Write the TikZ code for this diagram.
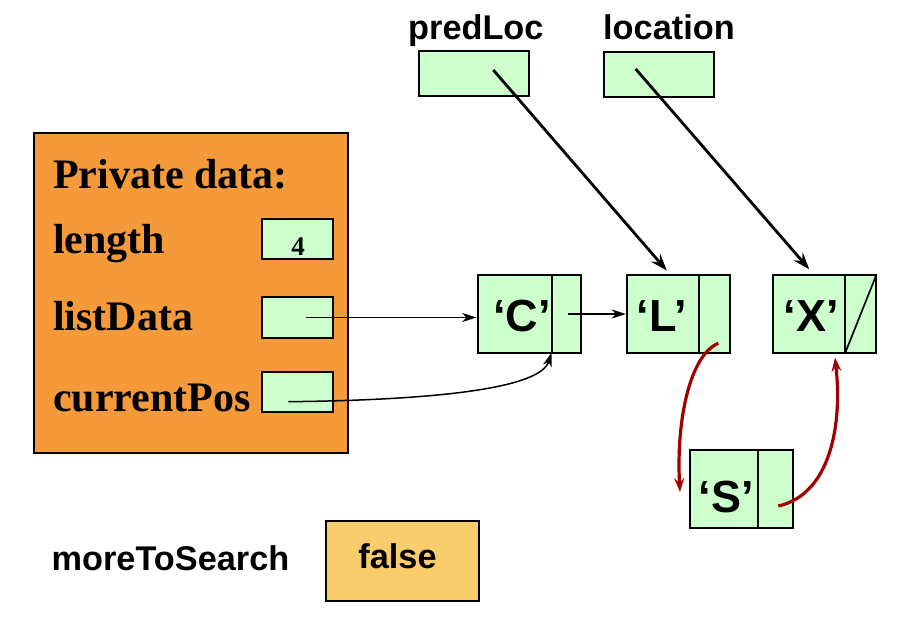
\documentclass[tikz,border=0pt]{standalone}
\usepackage{fontspec}
\setmainfont{Liberation Serif}
\newfontfamily\arialf{Liberation Sans}
\usetikzlibrary{arrows.meta,calc}
\definecolor{cellgreen}{RGB}{204,255,204}
\definecolor{privorange}{RGB}{245,154,58}
\definecolor{falseyellow}{RGB}{249,205,108}
\definecolor{ptrred}{RGB}{160,0,0}
\tikzset{
  box/.style={draw=black, line width=2pt, inner sep=0pt, outer sep=0pt},
  cell/.style={box, fill=cellgreen},
  smallcell/.style={cell, minimum width=71.6pt, minimum height=40.3pt},
  varcell/.style={cell, minimum width=109.5pt, minimum height=45.2pt},
  lnode/.style={cell, minimum width=103pt, minimum height=77.6pt},
  seriflab/.style={font=\fontsize{42}{42}\selectfont\bfseries, anchor=base west, inner sep=0pt},
  sanslab/.style={font=\arialf\fontsize{34.3}{34.3}\selectfont\bfseries, inner sep=0pt},
  chrlab/.style={font=\arialf\fontsize{45}{45}\selectfont\bfseries, anchor=base, inner sep=0pt},
  thinptr/.style={line width=1.5pt, -{Stealth[length=14pt, width=9pt, inset=4pt]}},
  thickptr/.style={line width=2.8pt, -{Stealth[length=17pt, width=12pt, inset=6pt]}},
  redptr/.style={draw=ptrred, line width=3.2pt, -{Stealth[length=14pt, width=10pt, inset=5pt]}},
  divider/.style={line width=1.7pt}
}
\begin{document}
\begin{tikzpicture}[x=1pt, y=-1pt]
\useasboundingbox (0,0) rectangle (899,620);

% private data block
\node[box, fill=privorange, minimum width=314pt, minimum height=320pt] (priv) at (191,293.3) {};
\node[seriflab] (privlab) at (53,188.3) {Private data:};
\node[seriflab] (lenlab) at (53,253.3) {length};
\node[seriflab] (ldlab) at (53,330) {listData};
\node[seriflab] (cplab) at (53,411.7) {currentPos};
\node[smallcell] (lenbox) at (297.5,239.3) {};
\node[font=\fontsize{27}{27}\selectfont\bfseries, anchor=base, inner sep=0pt] (four) at (298,255) {4};
\node[smallcell] (ldbox) at (297.5,317.5) {};
\node[smallcell] (cpbox) at (297.5,392) {};

% external pointers
\node[sanslab, anchor=base west] (predlab) at (408,39.3) {predLoc};
\node[sanslab, anchor=base west] (loclab) at (603,39.3) {location};
\node[varcell] (predbox) at (474,73.7) {};
\node[varcell] (locbox) at (658.8,74.8) {};

% list nodes
\node[lnode] (nC) at (529.8,313.8) {};
\node[lnode] (nL) at (678.8,313.7) {};
\node[lnode] (nX) at (824.8,313.8) {};
\node[lnode] (nS) at (741,488.8) {};
\node[chrlab] (tC) at (522,331.7) {‘C’};
\node[chrlab] (tL) at (661.7,331.7) {‘L’};
\node[chrlab] (tX) at (811,331.7) {‘X’};
\node[chrlab] (tS) at (726,512.7) {‘S’};

\coordinate (Ct) at ($(nC.north west)+(73.4,0)$);
\coordinate (Cb) at ($(nC.south west)+(73.4,0)$);
\coordinate (Lt) at ($(nL.north west)+(71.4,0)$);
\coordinate (Lb) at ($(nL.south west)+(71.4,0)$);
\coordinate (Xt) at ($(nX.north west)+(72,0)$);
\coordinate (Xb) at ($(nX.south west)+(72,0)$);
\coordinate (St) at ($(nS.north west)+(68.7,0)$);
\coordinate (Sb) at ($(nS.south west)+(68.7,0)$);
\draw[divider] (Ct) -- (Cb);
\draw[divider] (Lt) -- (Lb);
\draw[divider] (Xt) -- (Xb);
\draw[divider] (St) -- (Sb);
\draw[divider] (Xb) -- (nX.north east);

% moreToSearch
\node[sanslab, anchor=base west] (mts) at (51.5,570) {moreToSearch};
\node[box, fill=falseyellow, minimum width=153pt, minimum height=80pt] (fbox) at (402.5,560.7) {};
\node[sanslab, anchor=base] (ftext) at (397.5,568) {false};

% connectors
\coordinate (ldstart) at ($(ldbox.center)+(8.5,0)$);
\draw[thinptr] (ldstart) -- ($(ldstart -| nC.west)+(-2,0)$);
\coordinate (cstart) at (568.3,314);
\draw[thinptr] (cstart) -- ($(cstart -| nL.west)+(-1.5,0)$);
\coordinate (cpstart) at ($(cpbox.center)+(-9.2,9.7)$);
\draw[thinptr] (cpstart) .. controls (440,400) and (540,388) .. (Cb);

\coordinate (predstart) at ($(predbox.center)+(19.3,-3.7)$);
\draw[thickptr] (predstart) -- ($(nL.north)+(-12,-4.3)$);
\coordinate (locstart) at ($(locbox.center)+(-23.1,-5.8)$);
\draw[thickptr] (locstart) -- ($(nX.north)+(-15.5,-5.7)$);

\coordinate (Lstart) at (718.3,343.3);
\coordinate (Lend) at (680,492);
\draw[redptr] (Lstart) .. controls (690,355) and (676,420) .. (Lend);
\coordinate (Sstart) at (778.3,506);
\draw[redptr] (Sstart) .. controls (828,495) and (843,430) .. ($(nX.south)+(10.2,5)$);
\end{tikzpicture}
\end{document}
